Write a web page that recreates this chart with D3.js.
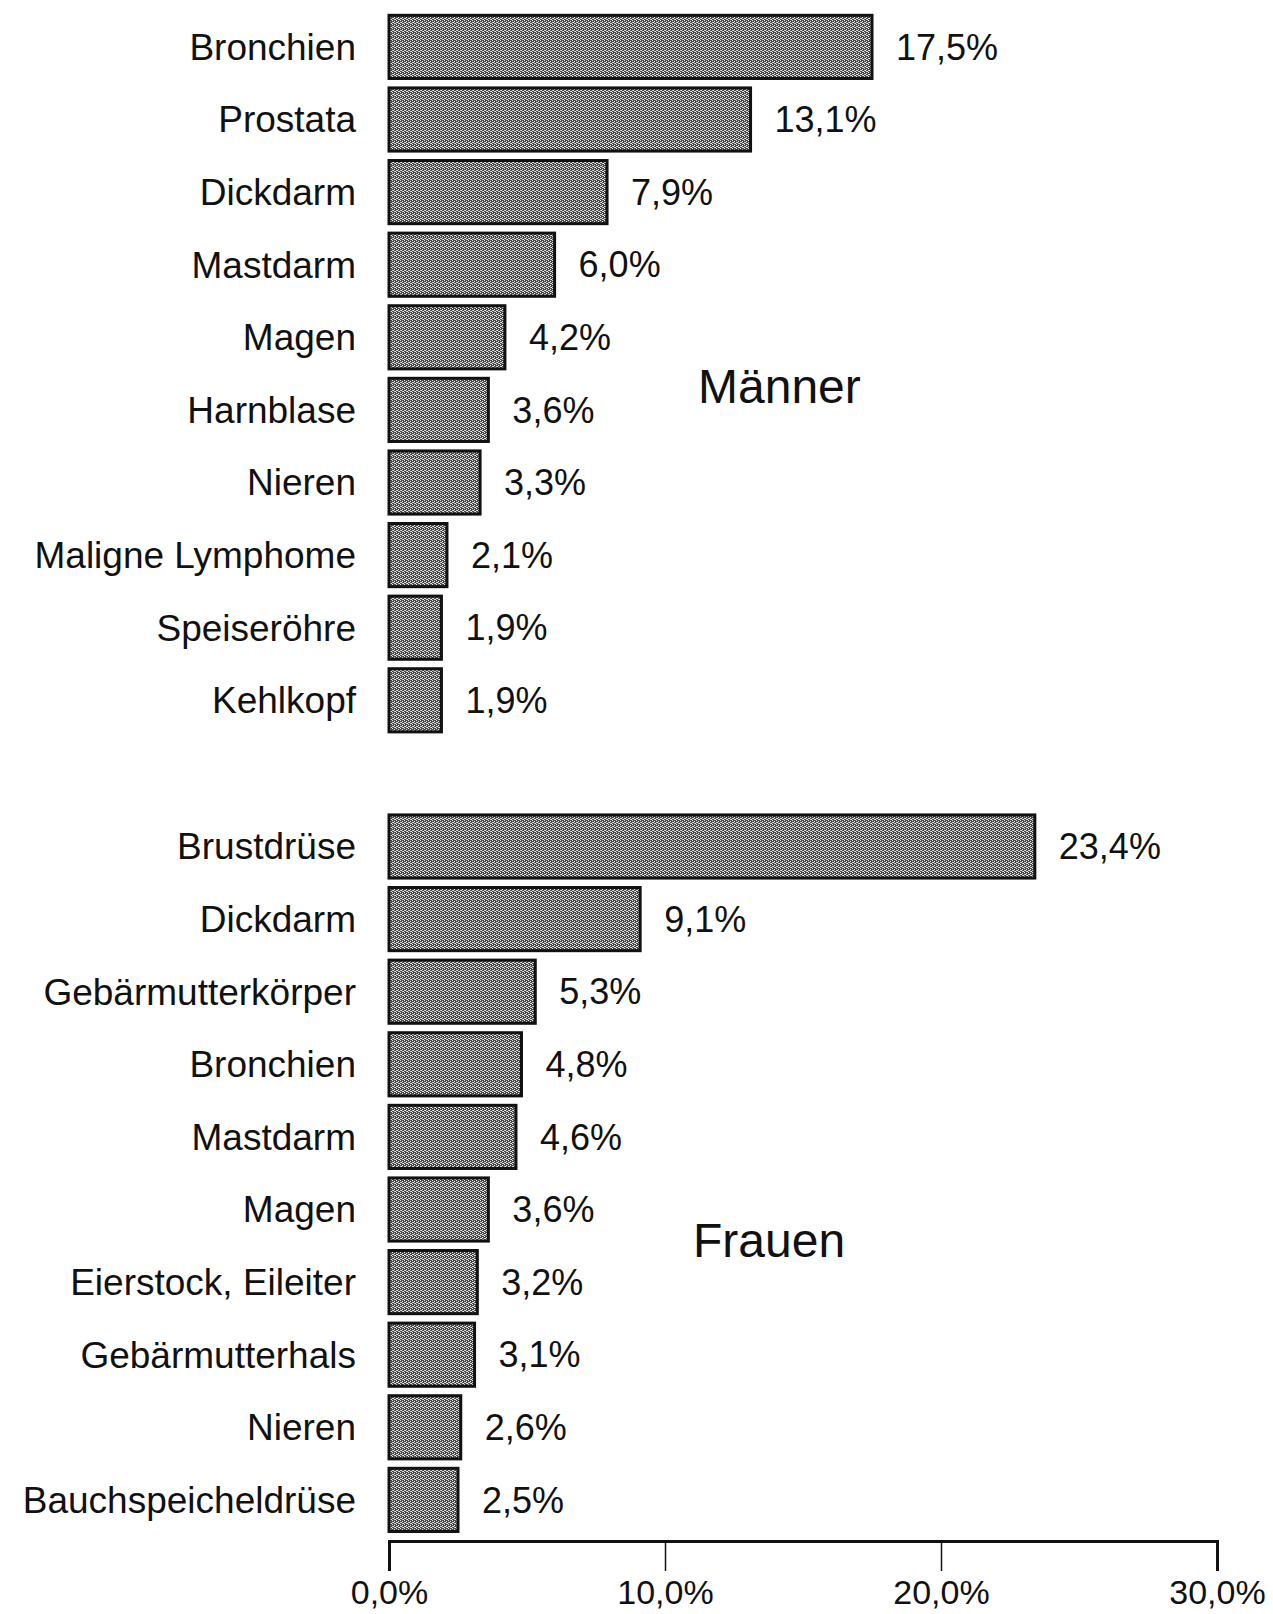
<!DOCTYPE html>
<html>
<head>
  <meta charset="utf-8" />
  <title>Krebsneuerkrankungen</title>
  <script src="https://d3js.org/d3.v7.min.js"></script>
  <style>
    body { margin: 0; background: #fff; }
    svg text { font-family: "Liberation Sans", Arial, sans-serif; fill: #111; }
  </style>
</head>
<body>
<div id="vis"></div>
<script>
  var w = 1273;
  var h = 1614;

  // data
  var maennerLabels = ["Bronchien", "Prostata", "Dickdarm", "Mastdarm", "Magen",
                       "Harnblase", "Nieren", "Maligne Lymphome", "Speiseröhre", "Kehlkopf"];
  var maennerWerte = [17.5, 13.1, 7.9, 6.0, 4.2, 3.6, 3.3, 2.1, 1.9, 1.9];

  var frauenLabels = ["Brustdrüse", "Dickdarm", "Gebärmutterkörper", "Bronchien", "Mastdarm",
                      "Magen", "Eierstock, Eileiter", "Gebärmutterhals", "Nieren", "Bauchspeicheldrüse"];
  var frauenWerte = [23.4, 9.1, 5.3, 4.8, 4.6, 3.6, 3.2, 3.1, 2.6, 2.5];

  var ticks = [0, 10, 20, 30];

  function fmt(v) {
    return v.toFixed(1).replace(".", ",") + "%";
  }

  var svg = d3.select("#vis")
    .append("svg")
    .attr("width", w)
    .attr("height", h);

  // dithered grey fill like the scanned original
  var defs = svg.append("defs");
  var pat = defs.append("pattern")
    .attr("id", "raster")
    .attr("width", 4)
    .attr("height", 4)
    .attr("patternUnits", "userSpaceOnUse");
  pat.append("rect").attr("width", 4).attr("height", 4).attr("fill", "#4a4a4a");
  pat.append("rect").attr("x", 0).attr("y", 0).attr("width", 1).attr("height", 1).attr("fill", "#e8e8e8");
  pat.append("rect").attr("x", 2).attr("y", 1).attr("width", 1).attr("height", 1).attr("fill", "#e8e8e8");
  pat.append("rect").attr("x", 1).attr("y", 2).attr("width", 1).attr("height", 1).attr("fill", "#e8e8e8");
  pat.append("rect").attr("x", 3).attr("y", 3).attr("width", 1).attr("height", 1).attr("fill", "#e8e8e8");
  pat.append("rect").attr("x", 2).attr("y", 3).attr("width", 1).attr("height", 1).attr("fill", "#c8c8c8");
  pat.append("rect").attr("x", 0).attr("y", 2).attr("width", 1).attr("height", 1).attr("fill", "#c8c8c8");

  var x = d3.scaleLinear()
    .domain([0, 30])
    .range([389, 1217]);

  function gruppe(labels, werte, y0, y1, titel, tx, ty) {
    var y = d3.scaleBand()
      .domain(labels.map(function(d, i) { return i; }))
      .range([y0, y1])
      .paddingInner(0.13)
      .paddingOuter(0.065);

    var g = svg.append("g");

    g.selectAll("rect.bar")
      .data(werte)
      .enter()
      .append("rect")
      .attr("class", "bar")
      .attr("x", x(0))
      .attr("y", function(d, i) { return y(i); })
      .attr("width", function(d) { return x(d) - x(0); })
      .attr("height", y.bandwidth())
      .attr("fill", "url(#raster)")
      .attr("stroke", "#111")
      .attr("stroke-width", 3);

    g.selectAll("text.cat")
      .data(labels)
      .enter()
      .append("text")
      .attr("class", "cat")
      .attr("x", x(0) - 33)
      .attr("y", function(d, i) { return y(i) + y.bandwidth() / 2; })
      .attr("dy", "0.35em")
      .attr("text-anchor", "end")
      .attr("font-size", 37)
      .text(function(d) { return d; });

    g.selectAll("text.val")
      .data(werte)
      .enter()
      .append("text")
      .attr("class", "val")
      .attr("x", function(d) { return x(d) + 24; })
      .attr("y", function(d, i) { return y(i) + y.bandwidth() / 2; })
      .attr("dy", "0.35em")
      .attr("font-size", 36)
      .text(function(d) { return fmt(d); });

    g.append("text")
      .attr("x", tx)
      .attr("y", ty)
      .attr("font-size", 48)
      .text(titel);
  }

  gruppe(maennerLabels, maennerWerte, 10.6, 736.6, "Männer", 698, 403);
  gruppe(frauenLabels, frauenWerte, 810.2, 1536.2, "Frauen", 693, 1257);

  // x axis
  var axis = d3.axisBottom(x)
    .tickValues(ticks)
    .tickSize(30)
    .tickPadding(9)
    .tickFormat(function(d) { return fmt(d); });

  var ax = svg.append("g")
    .attr("transform", "translate(0,1541)")
    .call(axis);

  ax.select(".domain")
    .attr("stroke", "#111")
    .attr("stroke-width", 3);
  ax.selectAll(".tick line")
    .attr("stroke", "#111")
    .attr("stroke-width", 1.5);
  ax.selectAll(".tick text")
    .attr("font-size", 34)
    .attr("font-family", "Liberation Sans, Arial, sans-serif")
    .attr("fill", "#111");
</script>
</body>
</html>
